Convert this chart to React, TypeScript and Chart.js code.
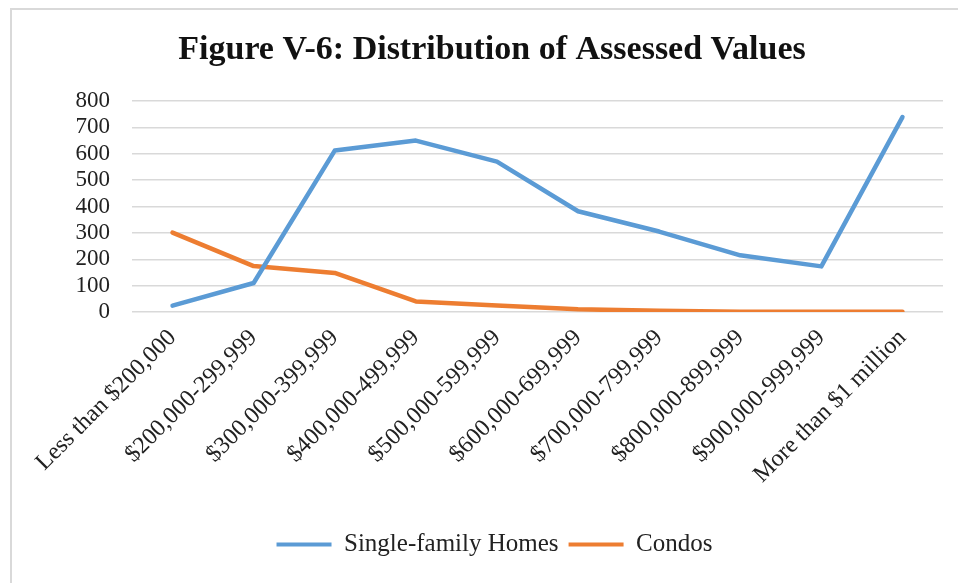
import { useEffect, useRef } from "react";
import { Chart, registerables } from "chart.js";

Chart.register(...registerables);

const categories = [
  "Less than $200,000",
  "$200,000-299,999",
  "$300,000-399,999",
  "$400,000-499,999",
  "$500,000-599,999",
  "$600,000-699,999",
  "$700,000-799,999",
  "$800,000-899,999",
  "$900,000-999,999",
  "More than $1 million",
];
const singleFamilyHomes = [24, 110, 612, 650, 570, 382, 305, 215, 173, 739];
const condos = [301, 174, 148, 40, 25, 10, 5, 1, 1, 1];
const yTickValues = [0, 100, 200, 300, 400, 500, 600, 700, 800];
const chartTitle = "Figure V-6: Distribution of Assessed Values";

const SERIF = "'Liberation Serif', 'Times New Roman', serif";

const framePlugin = {
  id: "frame",
  afterLayout(chart: any) {
    const lg = chart.legend;
    if (lg) {
      lg.left += 17;
      lg.right += 17;
    }
  },
  beforeDraw(chart: any) {
    const ctx = chart.ctx;
    ctx.save();
    ctx.fillStyle = "#ffffff";
    ctx.fillRect(0, 0, chart.width, chart.height);
    ctx.strokeStyle = "#d9d9d9";
    ctx.lineWidth = 2;
    ctx.beginPath();
    ctx.moveTo(11, chart.height);
    ctx.lineTo(11, 9);
    ctx.lineTo(chart.width, 9);
    ctx.stroke();
    ctx.restore();
  },
  afterDraw(chart: any) {
    const ctx = chart.ctx;
    ctx.save();
    ctx.fillStyle = "#111";
    ctx.font = `bold 34px ${SERIF}`;
    ctx.textAlign = "center";
    ctx.textBaseline = "alphabetic";
    ctx.fillText(chartTitle, 492, 59);
    ctx.restore();
  },
};

export default function App() {
  const ref = useRef<HTMLCanvasElement>(null);

  useEffect(() => {
    if (!ref.current) return;
    const chart = new Chart(ref.current, {
      type: "line",
      data: {
        labels: categories,
        datasets: [
          {
            label: "Single-family Homes",
            data: singleFamilyHomes,
            borderColor: "#5b9bd5",
            backgroundColor: "#5b9bd5",
            borderWidth: 4.5,
            pointRadius: 0,
            tension: 0,
            borderCapStyle: "round",
            borderJoinStyle: "round",
          },
          {
            label: "Condos",
            data: condos,
            borderColor: "#ed7d31",
            backgroundColor: "#ed7d31",
            borderWidth: 4.5,
            pointRadius: 0,
            tension: 0,
            borderCapStyle: "round",
            borderJoinStyle: "round",
          },
        ],
      },
      options: {
        responsive: false,
        animation: false,
        layout: { padding: { left: 12, right: 15, top: 101, bottom: 16 } },
        plugins: {
          title: { display: false },
          legend: {
            position: "bottom",
            labels: {
              color: "#222",
              font: { family: SERIF, size: 25 },
              boxWidth: 55,
              boxHeight: 4,
              padding: 10,
              generateLabels: (c: any) =>
                c.data.datasets.map((ds: any, i: number) => ({
                  text: ds.label,
                  fillStyle: ds.borderColor,
                  strokeStyle: ds.borderColor,
                  lineWidth: 0,
                  hidden: false,
                  datasetIndex: i,
                  fontColor: "#222",
                })),
            },
          },
          tooltip: { enabled: false },
        },
        scales: {
          x: {
            offset: true,
            grid: { display: false },
            border: { display: false },
            ticks: {
              color: "#222",
              font: { family: SERIF, size: 24 },
              minRotation: 45,
              maxRotation: 45,
              autoSkip: false,
              padding: 4,
            },
            afterFit: (s: any) => {
              s.height = 210;
            },
          },
          y: {
            min: 0,
            max: 800,
            afterBuildTicks: (s: any) => {
              s.ticks = yTickValues.map((v) => ({ value: v }));
            },
            grid: { color: "#d9d9d9", lineWidth: 1.5, drawTicks: false },
            border: { display: false },
            ticks: {
              color: "#222",
              font: { family: SERIF, size: 23 },
              padding: 22,
              autoSkip: false,
            },
            afterFit: (s: any) => {
              s.width = 120;
            },
          },
        },
      },
      plugins: [framePlugin],
    });
    return () => chart.destroy();
  }, []);

  return (
    <div style={{ position: "absolute", left: 0, top: 0, width: 958, height: 583 }}>
      <canvas ref={ref} width={958} height={583} />
    </div>
  );
}
